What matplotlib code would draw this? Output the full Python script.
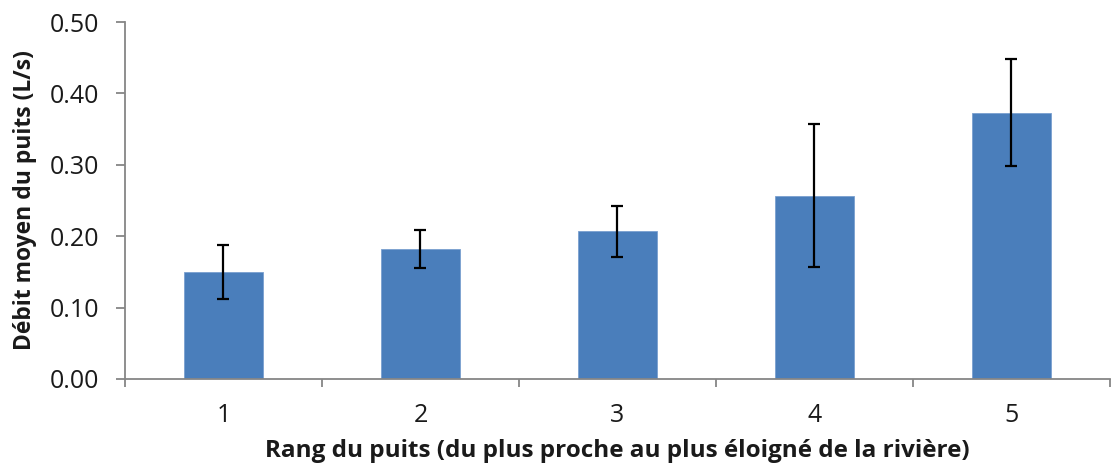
import matplotlib
matplotlib.use("Agg")
import matplotlib.pyplot as plt
from matplotlib.ticker import FixedLocator, FormatStrFormatter

# données
rangs = [1, 2, 3, 4, 5]
debit_moyen = [0.150, 0.182, 0.207, 0.257, 0.373]
erreur = [0.038, 0.027, 0.036, 0.100, 0.075]

plt.rcParams['font.family'] = ['Open Sans', 'DejaVu Sans']

fig = plt.figure(figsize=(11.14, 4.65), dpi=100)
ax = fig.add_axes([0.1122, 0.185, 0.8842, 0.7675])

ax.bar(rangs, debit_moyen, width=0.4, color='#4a7ebb', edgecolor='#7a9fcf', linewidth=0.6,
       yerr=erreur, capsize=4.5, error_kw={'elinewidth': 1.6, 'capthick': 1.6, 'ecolor': 'black'})

ax.set_xlim(0.5, 5.5)
ax.set_ylim(0, 0.5)
ax.set_yticks([0, 0.1, 0.2, 0.3, 0.4, 0.5])
ax.yaxis.set_major_formatter(FormatStrFormatter('%.2f'))
ax.set_xticks(rangs)
ax.xaxis.set_minor_locator(FixedLocator([0.5, 1.5, 2.5, 3.5, 4.5, 5.5]))

for s in ['top', 'right']:
    ax.spines[s].set_visible(False)
for s in ['left', 'bottom']:
    ax.spines[s].set_color('#868686')
    ax.spines[s].set_linewidth(1.3)

ax.tick_params(axis='y', length=6.5, width=1.3, color='#868686', labelsize=18, pad=12, labelcolor='#1a1a1a')
ax.tick_params(axis='x', which='major', length=0, labelsize=18, pad=17, labelcolor='#1a1a1a')
ax.tick_params(axis='x', which='minor', length=6, width=1.3, color='#868686')

ax.set_xlabel('Rang du puits (du plus proche au plus éloigné de la rivière)', fontsize=17.5,
              fontweight='bold', color='#1a1a1a', labelpad=8)
ax.set_ylabel('Débit moyen du puits (L/s)', fontsize=16.5, fontweight='bold', color='#1a1a1a', labelpad=9)

fig.savefig('out.png', dpi=100)
